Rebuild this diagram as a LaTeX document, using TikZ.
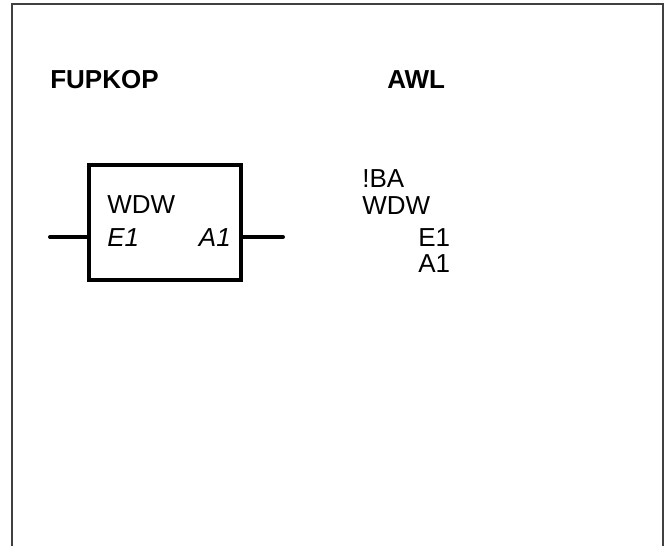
\documentclass[tikz,border=0pt]{standalone}
\usepackage{fontspec}
\setmainfont{Liberation Sans}
\usetikzlibrary{positioning,calc}
\tikzset{
    lbl/.style={anchor=base west,inner sep=0pt,font=\fontsize{19.5}{23}\selectfont},
    head/.style={lbl,font=\fontsize{19.5}{23}\selectfont\bfseries},
    fbox/.style={draw,line width=3pt,minimum width=114pt,minimum height=86.25pt,inner sep=0pt},
    wire/.style={line width=3pt,line cap=round},
    frame/.style={line width=1pt,draw=black!75}
}
\begin{document}
\begin{tikzpicture}[x=0.75pt,y=-0.75pt]
    \useasboundingbox (0,0) rectangle (670,546);
    % frame, open at the bottom
    \coordinate (fbl) at (12,546);
    \coordinate (ftl) at (12,4);
    \coordinate (ftr) at (663,4);
    \coordinate (fbr) at (663,546);
    \draw[frame] (fbl) -- (ftl) -- (ftr) -- (fbr);
    % headings
    \node[head] (fup) at (50,88) {FUPKOP};
    \node[head] (awl) at (387,88) {AWL};
    % function block
    \node[fbox] (fb) at (165,222.5) {};
    \node[lbl] (name) at (107,213) {WDW};
    \node[lbl] (e1) at (107,246) {\itshape E1};
    \node[lbl,anchor=base east] (a1) at (231,246) {\itshape A1};
    \coordinate (in) at (50,237);
    \coordinate (out) at (283,237);
    \draw[wire] (in) -- (in -| fb.west);
    \draw[wire] (out -| fb.east) -- (out);
    % statement list
    \node[lbl] (ba) at (362,187) {!BA};
    \node[lbl] (wdw) at (362,214) {WDW};
    \node[lbl] (se1) at (418,246) {E1};
    \node[lbl] (sa1) at (418,272) {A1};
\end{tikzpicture}
\end{document}
